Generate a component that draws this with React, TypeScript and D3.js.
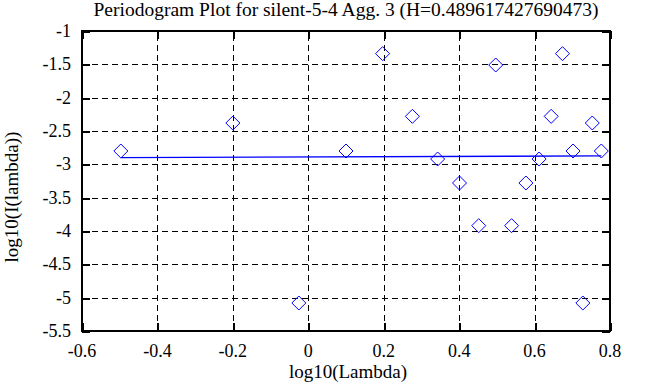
import { useEffect, useRef } from 'react';
import * as d3 from 'd3';

// log10 of the frequencies
const logLambda = [
  -0.497, -0.2, -0.025, 0.1, 0.197, 0.276, 0.343, 0.401, 0.452, 0.497,
  0.539, 0.577, 0.612, 0.644, 0.674, 0.702, 0.728, 0.753, 0.777,
];
// log10 of the periodogram values
const logI = [
  -2.8, -2.38, -5.08, -2.8, -1.34, -2.28, -2.92, -3.28, -3.92, -1.51,
  -3.92, -3.28, -2.92, -2.28, -1.34, -2.8, -5.08, -2.38, -2.8,
];
const H = 0.489617427690473;
const fitIntercept = -2.89;
const xTicks = [-0.6, -0.4, -0.2, 0, 0.2, 0.4, 0.6, 0.8];
const yTicks = [-5.5, -5, -4.5, -4, -3.5, -3, -2.5, -2, -1.5, -1];

const W = 653;
const Hgt = 387;
const margin = { top: 31, right: 43, bottom: 56, left: 82 };

const App = () => {
  const svgRef = useRef<SVGSVGElement>(null);

  useEffect(() => {
    const svg = d3.select(svgRef.current);
    svg.selectAll('*').remove();

    const x = d3.scaleLinear().domain([-0.6, 0.8]).range([margin.left, W - margin.right]);
    const y = d3.scaleLinear().domain([-5.5, -1]).range([Hgt - margin.bottom, margin.top]);
    const font = '"Liberation Serif", "Times New Roman", serif';

    svg.append('rect').attr('width', W).attr('height', Hgt).attr('fill', '#fff');

    // grid
    const g = svg.append('g').attr('shape-rendering', 'crispEdges');
    xTicks.slice(1, -1).forEach(t => {
      g.append('line')
        .attr('x1', Math.round(x(t)) + 0.5).attr('x2', Math.round(x(t)) + 0.5)
        .attr('y1', y(-5.5)).attr('y2', y(-1))
        .attr('stroke', '#000').attr('stroke-dasharray', '6,4');
    });
    yTicks.slice(1, -1).forEach(t => {
      g.append('line')
        .attr('y1', Math.round(y(t)) + 0.5).attr('y2', Math.round(y(t)) + 0.5)
        .attr('x1', x(-0.6)).attr('x2', x(0.8))
        .attr('stroke', '#000').attr('stroke-dasharray', '6,4');
    });

    // inward ticks on all sides
    xTicks.forEach(t => {
      const px = Math.round(x(t)) + 0.5;
      g.append('line').attr('x1', px).attr('x2', px).attr('y1', y(-5.5)).attr('y2', y(-5.5) - 8).attr('stroke', '#000').attr('stroke-width', 2);
      g.append('line').attr('x1', px).attr('x2', px).attr('y1', y(-1)).attr('y2', y(-1) + 8).attr('stroke', '#000').attr('stroke-width', 2);
    });
    yTicks.forEach(t => {
      const py = Math.round(y(t)) + 0.5;
      g.append('line').attr('y1', py).attr('y2', py).attr('x1', x(-0.6)).attr('x2', x(-0.6) + 8).attr('stroke', '#000').attr('stroke-width', 2);
      g.append('line').attr('y1', py).attr('y2', py).attr('x1', x(0.8)).attr('x2', x(0.8) - 8).attr('stroke', '#000').attr('stroke-width', 2);
    });

    // fitted line, slope = 1 - 2H
    const slope = 1 - 2 * H;
    const xs = [logLambda[0], logLambda[logLambda.length - 1]];
    svg.append('path')
      .attr('d', d3.line<number>().x(d => x(d)).y(d => y(fitIntercept + slope * d))(xs))
      .attr('stroke', '#0000ff').attr('stroke-width', 1.3).attr('fill', 'none');

    // diamonds
    const sym = d3.symbol().type(d3.symbolDiamond2).size(125);
    svg.append('g').selectAll('path').data(logLambda).join('path')
      .attr('d', sym)
      .attr('transform', (d, i) => `translate(${x(d)},${y(logI[i])})`)
      .attr('fill', 'none').attr('stroke', '#0000ff').attr('stroke-width', 1);

    // frame
    svg.append('rect')
      .attr('x', x(-0.6)).attr('y', y(-1))
      .attr('width', x(0.8) - x(-0.6)).attr('height', y(-5.5) - y(-1))
      .attr('fill', 'none').attr('stroke', '#000').attr('stroke-width', 2);

    // tick labels
    svg.append('g').selectAll('text').data(xTicks).join('text')
      .attr('x', d => x(d)).attr('y', y(-5.5) + 26)
      .attr('text-anchor', 'middle')
      .attr('font-family', font).attr('font-size', 18)
      .text(d => String(d));
    svg.append('g').selectAll('text').data(yTicks).join('text')
      .attr('x', x(-0.6) - 11).attr('y', d => y(d) + 6)
      .attr('text-anchor', 'end')
      .attr('font-family', font).attr('font-size', 18)
      .text(d => String(d));

    // titles
    svg.append('text')
      .attr('x', (x(-0.6) + x(0.8)) / 2).attr('y', 16)
      .attr('text-anchor', 'middle')
      .attr('font-family', font).attr('font-size', 19.5)
      .text(`Periodogram Plot for silent-5-4 Agg. 3 (H=${H})`);
    svg.append('text')
      .attr('x', (x(-0.6) + x(0.8)) / 2 + 2).attr('y', 378)
      .attr('text-anchor', 'middle')
      .attr('font-family', font).attr('font-size', 19)
      .text('log10(Lambda)');
    svg.append('text')
      .attr('transform', `translate(18,197) rotate(-90)`)
      .attr('text-anchor', 'middle')
      .attr('font-family', font).attr('font-size', 19)
      .text('log10(I(lambda))');
  }, []);

  return (
    <svg ref={svgRef} width={W} height={Hgt}
      style={{ position: 'absolute', left: 0, top: 0, display: 'block' }} />
  );
};

export default App;
